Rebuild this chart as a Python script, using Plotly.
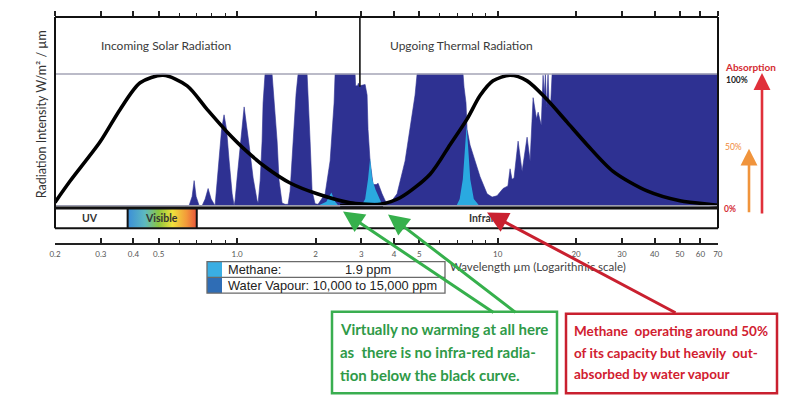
import math
import plotly.graph_objects as go

# ---------------- data ----------------
# water vapour / total absorption spectrum (wavelength um, absorbed fraction)
dark_wl = [0.632, 0.654, 0.672, 0.684, 0.696, 0.715, 0.734, 0.754, 0.774, 0.795, 0.823,
           0.831, 0.853, 0.872, 0.891, 0.911, 0.932, 0.957, 0.974,
           0.982, 1.000, 1.027, 1.064, 1.112, 1.152, 1.193,
           1.204, 1.226, 1.247, 1.258, 1.280, 1.362, 1.387, 1.424, 1.449, 1.488, 1.528,
           1.569, 1.597, 1.640, 1.684, 1.714, 1.856, 1.906, 1.940, 1.992,
           2.045, 2.177, 2.275, 2.356, 2.377, 2.837, 2.850, 2.900, 2.920, 2.950, 3.100,
           3.154, 3.180, 3.238, 3.325, 3.420, 3.476, 3.600, 3.698, 3.797, 3.870, 3.935,
           4.111, 4.413, 4.612, 4.820, 4.906, 7.365, 7.430, 7.500, 7.560, 7.630, 7.835,
           8.190, 8.560, 9.106, 9.520, 9.947, 10.49, 10.95, 11.16, 11.35, 11.56, 11.98,
           12.41, 12.97, 13.32, 13.68, 14.10, 14.30, 14.70, 14.94, 15.10, 15.25, 15.40,
           15.61, 15.75, 16.00, 16.18, 70.1]
dark_abs = [0, 0, 0.07, 0.19, 0.07, 0, 0, 0.05, 0.13, 0.05, 0,
            0.09, 0.34, 0.58, 0.69, 0.58, 0.34, 0.09, 0,
            0.04, 0.21, 0.46, 0.75, 0.46, 0.21, 0.04,
            0.02, 0.19, 0.49, 0.78, 1.0, 1.0, 0.78, 0.49, 0.19, 0.02, 0.01,
            0.01, 0.11, 0.49, 0.85, 1.0, 1.0, 0.49, 0.11, 0.015,
            0.01, 0.09, 0.34, 0.78, 1.0, 1.0, 0.91, 0.91, 0.93, 0.91, 0.92,
            0.84, 0.58, 0.34, 0.16, 0.16, 0.17, 0.09, 0.04, 0.015, 0.02, 0.04,
            0.09, 0.34, 0.58, 0.84, 1.0, 1.0, 0.90, 0.82, 0.78, 0.58, 0.46,
            0.34, 0.22, 0.09, 0.065, 0.075, 0.13, 0.15, 0.28, 0.20, 0.21, 0.49,
            0.26, 0.52, 0.34, 0.82, 0.66, 0.71, 0.61, 0.99, 0.84, 1.0, 0.75,
            1.0, 0.78, 0.80, 1.0, 1.0]

# methane absorption peaks
ch4_wl = [2.04, 2.20, 2.30, 2.38, 2.45,
          3.00, 3.10, 3.18, 3.24, 3.30, 3.40, 3.50, 3.62,
          6.95, 7.15, 7.35, 7.50, 7.60, 7.70, 7.85, 8.10, 8.50]
ch4_abs = [0, 0.03, 0.10, 0.03, 0,
           0, 0.05, 0.20, 0.36, 0.20, 0.12, 0.06, 0,
           0, 0.05, 0.20, 0.45, 0.61, 0.45, 0.20, 0.05, 0]

# normalised black-body curves
solar_wl = [0.2, 0.2286, 0.298, 0.3556, 0.4244, 0.52, 0.643, 0.767, 0.915, 1.092,
            1.304, 1.597, 2.028, 2.715, 3.634]
solar_val = [0.025, 0.187, 0.485, 0.731, 0.933, 0.99, 0.91, 0.731, 0.56, 0.41,
             0.284, 0.172, 0.09, 0.022, 0.004]
thermal_wl = [2.485, 2.965, 3.538, 4.222, 5.504, 6.566, 7.63, 8.56, 9.60, 11.16,
              12.97, 15.47, 18.47, 22.03, 27.72, 37.44, 50.12, 67.1, 70.1]
thermal_val = [0.0, 0.004, 0.01, 0.06, 0.239, 0.463, 0.657, 0.836, 0.948, 0.99,
               0.948, 0.806, 0.634, 0.463, 0.261, 0.112, 0.037, 0.0075, 0.003]

tick_vals = [0.2, 0.3, 0.4, 0.5, 1.0, 2, 3, 4, 5, 10, 20, 30, 40, 50, 60, 70]
tick_text = ["0.2", "0.3", "0.4", "0.5", "1.0", "2", "3", "4", "5",
             "10", "20", "30", "40", "50", "60", "70"]
minor_vals = [0.6, 0.7, 0.8, 0.9, 6, 7, 8, 9]

band_edges = [0.2, 0.38, 0.70, 70.1]
band_labels = ["UV", "Visible", "Infrared"]
divider_wl = 2.96
region_labels = ["Incoming Solar Radiation", "Upgoing Thermal Radiation"]

legend_labels = ["Methane:", "Water Vapour: 10,000 to 15,000 ppm"]
legend_values = ["1.9 ppm", ""]

green_lines = ["Virtually no warming at all here",
               "as  there is no infra-red radia-",
               "tion below the black curve."]
red_lines = ["Methane  operating around 50%",
             "of its capacity but heavily  out-",
             "absorbed by water vapour"]

# ---------------- geometry helpers ----------------
W, H = 790, 407
PL, PR, PT, PB = 55, 718, 13, 243
Y0PX, Y100PX = 205, 71


def px(X):
    return (X - PL) / (PR - PL)


def py(Y):
    return (PB - Y) / (PB - PT)


def ya(Y):
    return (Y0PX - Y) / (Y0PX - Y100PX)


xrange_ = [math.log10(0.2), math.log10(70.1)]
yrange_ = [ya(PB), ya(PT)]

DARK = "#2e3192"
LIGHT = "#2aa9e0"
FONT = "Lato"

fig = go.Figure()

fig.add_trace(go.Scatter(x=dark_wl, y=dark_abs, mode="lines", fill="tozeroy",
                         fillcolor=DARK, line=dict(width=0.6, color=DARK),
                         hoverinfo="skip", showlegend=False))
fig.add_trace(go.Scatter(x=ch4_wl, y=ch4_abs, mode="lines", fill="tozeroy",
                         fillcolor=LIGHT, line=dict(width=0, color=LIGHT),
                         hoverinfo="skip", showlegend=False))

# visible band gradient
vb0, vb1 = ya(208.5), ya(227.5)
fig.add_trace(go.Scatter(x=[band_edges[1], band_edges[2], band_edges[2], band_edges[1], band_edges[1]],
                         y=[vb0, vb0, vb1, vb1, vb0], mode="lines", fill="toself",
                         fillgradient=dict(type="horizontal",
                                           colorscale=[[0, "#3b8ed8"], [0.25, "#5db9c0"],
                                                       [0.45, "#8dc63f"], [0.65, "#f0e13c"],
                                                       [0.85, "#f39a3a"], [1, "#e8553b"]]),
                         line=dict(width=0), hoverinfo="skip", showlegend=False))

fig.add_trace(go.Scatter(x=solar_wl, y=solar_val, mode="lines",
                         line=dict(color="black", width=3.6, shape="spline", smoothing=0.8),
                         hoverinfo="skip", showlegend=False))
fig.add_trace(go.Scatter(x=thermal_wl, y=thermal_val, mode="lines",
                         line=dict(color="black", width=3.6, shape="spline", smoothing=0.8),
                         hoverinfo="skip", showlegend=False))
# carrier for the top tick axis
fig.add_trace(go.Scatter(x=[1.0], y=[0], xaxis="x2", mode="markers",
                         marker=dict(size=0.1, opacity=0), hoverinfo="skip", showlegend=False))

shapes = []
# 0 % and 100 % guide lines
shapes.append(dict(type="line", xref="paper", yref="y", x0=0, x1=1, y0=1, y1=1,
                   line=dict(color="#a4a5b6", width=1.5)))
shapes.append(dict(type="line", xref="paper", yref="y", x0=0, x1=1, y0=0, y1=0,
                   line=dict(color="#9c9db0", width=1.5)))
# frame
for x in (0, 1):
    shapes.append(dict(type="line", xref="paper", yref="paper", x0=x, x1=x,
                       y0=py(228), y1=py(PT), line=dict(color="#111", width=2)))
shapes.append(dict(type="line", xref="paper", yref="paper", x0=0, x1=1,
                   y0=py(PT), y1=py(PT), line=dict(color="#111", width=2)))
# band box
shapes.append(dict(type="line", xref="paper", yref="paper", x0=0, x1=1,
                   y0=py(207.5), y1=py(207.5), line=dict(color="#111", width=3)))
shapes.append(dict(type="line", xref="paper", yref="paper", x0=0, x1=1,
                   y0=py(228), y1=py(228), line=dict(color="#111", width=2)))
for e in band_edges[1:3]:
    shapes.append(dict(type="line", xref="x", yref="paper", x0=e, x1=e,
                       y0=py(207.5), y1=py(228), line=dict(color="#111", width=2)))
# solar / thermal divider
shapes.append(dict(type="line", xref="x", yref="paper", x0=divider_wl, x1=divider_wl,
                   y0=py(PT), y1=py(84), line=dict(color="#111", width=1.6)))

# legend table
LX0, LX1, LY0, LY1, LYM, SW = 207, 445, 262, 294, 278, 222
shapes.append(dict(type="rect", xref="paper", yref="paper", x0=px(LX0), x1=px(SW),
                   y0=py(LY0), y1=py(LYM), fillcolor="#3aaee3", line=dict(width=0)))
shapes.append(dict(type="rect", xref="paper", yref="paper", x0=px(LX0), x1=px(SW),
                   y0=py(LYM), y1=py(LY1), fillcolor="#2f6db5", line=dict(width=0)))
shapes.append(dict(type="rect", xref="paper", yref="paper", x0=px(LX0), x1=px(LX1),
                   y0=py(LY0), y1=py(LY1), line=dict(color="#6a6a6a", width=1.3)))
shapes.append(dict(type="line", xref="paper", yref="paper", x0=px(LX0), x1=px(LX1),
                   y0=py(LYM), y1=py(LYM), line=dict(color="#6a6a6a", width=1.3)))

# annotation boxes
shapes.append(dict(type="rect", xref="paper", yref="paper", x0=px(332), x1=px(557),
                   y0=py(313), y1=py(396), line=dict(color="#3aae50", width=2.5)))
shapes.append(dict(type="rect", xref="paper", yref="paper", x0=px(566), x1=px(777),
                   y0=py(315), y1=py(396), line=dict(color="#c9202f", width=2.5)))

ann = []


def txt(X, Y, s, size, color, bold=False, xanchor="center", family=FONT, angle=0):
    ann.append(dict(x=px(X), y=py(Y), xref="paper", yref="paper", text=("<b>%s</b>" % s) if bold else s,
                    showarrow=False, xanchor=xanchor, yanchor="middle", textangle=angle,
                    font=dict(family=family, size=size, color=color)))


txt(166, 42, region_labels[0], 12, "#3a3a3a")
txt(461, 42, region_labels[1], 12, "#3a3a3a")
band_mid_px = [90, 161, 487]
for lab, X in zip(band_labels, band_mid_px):
    txt(X, 218, lab, 10.5, "#333", bold=True)
txt(41, 112, "Radiation Intensity W/m² / µm", 12.5, "#333", angle=-90)
txt(448, 267, "Wavelength µm (Logarithmic scale)", 11.5, "#444", xanchor="left")

# legend texts
txt(226, 270, legend_labels[0], 12.8, "#222", xanchor="left", family="Liberation Sans")
txt(343, 270, legend_values[0], 12.8, "#222", xanchor="left", family="Liberation Sans")
txt(226, 286, legend_labels[1], 12.8, "#222", xanchor="left", family="Liberation Sans")

for s, Y in zip(green_lines, [331, 354, 377]):
    txt(338, Y, s, 15, "#2f9a48", bold=True, xanchor="left")
for s, Y in zip(red_lines, [333, 355, 376]):
    txt(572, Y, s, 13.5, "#d1202f", bold=True, xanchor="left")

# absorption scale
txt(750, 64, "Absorption", 10, "#d42b33", bold=True)
txt(737, 77, "100%", 8.5, "#222", bold=True)
txt(733, 145, "50%", 8.5, "#f08a3a")
txt(730, 208, "0%", 8.5, "#d42b33", bold=True)


def arrow(tx, ty, sx, sy, color, width, size=1.4):
    ann.append(dict(x=px(tx), y=py(ty), xref="paper", yref="paper", ax=sx - tx, ay=sy - ty,
                    axref="pixel", ayref="pixel", text="", showarrow=True, arrowhead=2,
                    arrowsize=size, arrowwidth=width, arrowcolor=color))


arrow(762, 70, 762, 212, "#e0303a", 2.6, 1.3)
arrow(749, 147, 749, 212, "#f0943c", 2.6, 1.3)
arrow(343, 211, 495, 313, "#36b04c", 3)
arrow(388, 214, 517, 313, "#36b04c", 3)
arrow(487, 212, 677, 313, "#c9202f", 3)

axis_common = dict(type="log", range=xrange_, showgrid=False, zeroline=False)
fig.update_layout(
    width=W, height=H,
    margin=dict(l=PL, r=W - PR, t=PT, b=H - PB, pad=0),
    paper_bgcolor="white", plot_bgcolor="white",
    xaxis=dict(**axis_common, showline=True, linecolor="#222", linewidth=1.5,
               ticks="inside", ticklen=5, tickwidth=1.5, tickcolor="#222",
               tickmode="array", tickvals=tick_vals, ticktext=tick_text,
               tickfont=dict(family=FONT, size=8, color="#555"), ticklabelstandoff=3,
               minor=dict(tickmode="array", tickvals=minor_vals, ticks="inside",
                          ticklen=3.5, tickwidth=1.2, tickcolor="#222", showgrid=False)),
    xaxis2=dict(**axis_common, overlaying="x", side="top", anchor="y", showline=False,
                ticks="outside", ticklen=5, tickwidth=1.5, tickcolor="#222",
                tickmode="array", tickvals=tick_vals, showticklabels=False,
                minor=dict(tickmode="array", tickvals=minor_vals, ticks="outside",
                           ticklen=3.5, tickwidth=1.2, tickcolor="#222", showgrid=False)),
    yaxis=dict(range=yrange_, visible=False, fixedrange=True),
    shapes=shapes, annotations=ann, showlegend=False,
)

fig.write_html("out.html", config={"displayModeBar": False},
               post_script="document.body.style.margin='0px';")
